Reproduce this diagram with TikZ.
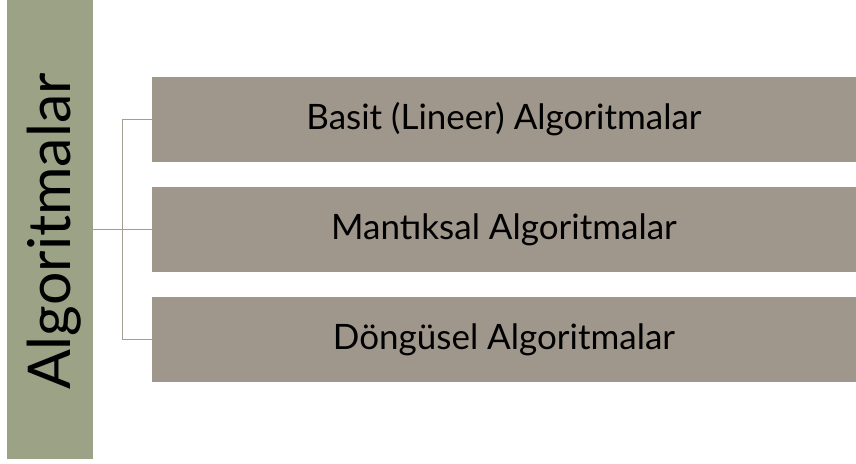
\documentclass[tikz,border=0pt]{standalone}
\usepackage{fontspec}
\setmainfont{Lato}
\definecolor{barcol}{HTML}{9CA285}
\definecolor{boxcol}{HTML}{9F978B}
\definecolor{linecol}{HTML}{A39D92}
\begin{document}
\begin{tikzpicture}[x=1pt,y=-1pt,
  itembox/.style={fill=boxcol,draw=none,minimum width=704pt,minimum height=85pt,inner sep=0pt,font=\fontsize{35}{35}\selectfont,text=black},
  conn/.style={draw=linecol,line width=1.3pt}]
\useasboundingbox[fill=white] (0,0) rectangle (856,463);
\node[fill=barcol,minimum width=86pt,minimum height=459pt,inner sep=0pt,anchor=north west] (bar) at (7,0) {};
\node[rotate=90,anchor=base,font=\fontsize{59}{59}\selectfont,inner sep=0pt] (title) at (70,231.5) {Algoritmalar};
\node[itembox] (b1) at (504,119.5) {Basit (Lineer) Algoritmalar};
\node[itembox] (b2) at (504,229.5) {Mantıksal Algoritmalar};
\node[itembox] (b3) at (504,339.5) {Döngüsel Algoritmalar};
\draw[conn] (bar.east |- b2.west) -- (b2.west);
\draw[conn] (b1.west) -- ++(-29.5,0) |- (b3.west);
\end{tikzpicture}
\end{document}
